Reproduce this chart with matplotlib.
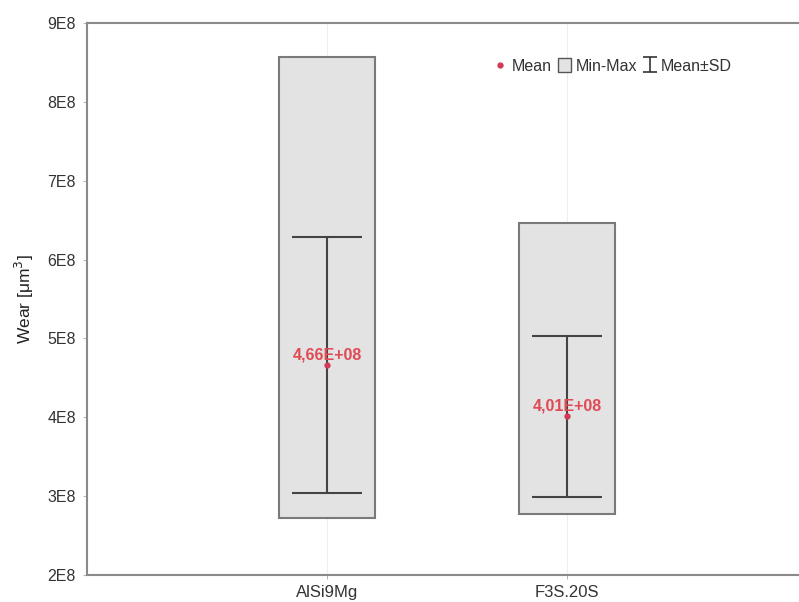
import matplotlib
matplotlib.use("Agg")
import matplotlib.pyplot as plt
from matplotlib.patches import Rectangle
import numpy as np

plt.rcParams['font.family'] = ['Liberation Sans', 'DejaVu Sans']

categories = ["AlSi9Mg", "F3S.20S"]
means = [4.66e8, 4.01e8]
sds = [1.62e8, 1.02e8]
mins = [2.72e8, 2.77e8]
maxs = [8.57e8, 6.46e8]
mean_labels = ["4,66E+08", "4,01E+08"]
yticks = [2e8, 3e8, 4e8, 5e8, 6e8, 7e8, 8e8, 9e8]
ytick_labels = ["2E8", "3E8", "4E8", "5E8", "6E8", "7E8", "8E8", "9E8"]

fig = plt.figure(figsize=(7.99, 6.02), dpi=100)
ax = fig.add_axes([87/799, 27/602, 720/799, 552/602])

x = np.arange(len(categories))
box_w = 0.40
spine_c = '#8a8a8a'
for xi, mn, mx in zip(x, mins, maxs):
    ax.add_patch(Rectangle((xi - box_w/2, mn), box_w, mx - mn,
                           facecolor='#e3e3e3', edgecolor='#7a7a7a', linewidth=1.5, zorder=2))

eb = ax.errorbar(x, means, yerr=sds, fmt='none', ecolor='#444444', elinewidth=1.5,
                 capsize=25, capthick=1.5, zorder=3)
ax.plot(x, means, 'o', color='#d23a55', markersize=3.5, zorder=4, linestyle='none')
for xi, m, lab in zip(x, means, mean_labels):
    ax.text(xi, m + 0.13e8, lab, color='#e04a55', fontsize=11.5, fontweight='bold',
            ha='center', va='center', zorder=5)

ax.set_xlim(-1, 2)
ax.set_ylim(2e8, 9e8)
ax.set_xticks(x)
ax.set_xticklabels(categories, fontsize=12, color='#333333')
ax.set_yticks(yticks)
ax.set_yticklabels(ytick_labels, fontsize=11.5, color='#333333')
ax.set_ylabel("Wear [μm$^3$]", fontsize=12.5, color='#222222', labelpad=8)
ax.tick_params(axis='both', length=3, width=0.6, color='#aaaaaa', direction='out')
ax.tick_params(axis='y', pad=5)
ax.tick_params(axis='x', pad=4)
ax.grid(axis='x', color='#eeeeee', linewidth=0.8, zorder=0)
for s in ['left', 'bottom', 'top']:
    ax.spines[s].set_color(spine_c)
    ax.spines[s].set_linewidth(1.5)
ax.spines['right'].set_visible(False)

h_mean = ax.plot([], [], 'o', color='#d23a55', markersize=3.5, linestyle='none')[0]
h_box = Rectangle((0, 0), 1, 1, facecolor='#e3e3e3', edgecolor='#555555', linewidth=1)
h_sd = ax.errorbar([np.nan], [np.nan], yerr=[1], fmt='none', ecolor='#333333',
                   elinewidth=1.2, capsize=5, capthick=1.2)
leg = ax.legend([h_mean, h_box, h_sd], ["Mean", "Min-Max", "Mean±SD"], ncol=3,
                loc='center', bbox_to_anchor=(526/720, (579-70)/552), frameon=False,
                fontsize=11.5, handlelength=0.8, handleheight=1.0, handletextpad=0.3,
                columnspacing=0.4, borderpad=0)
for t in leg.get_texts():
    t.set_color('#333333')

fig.savefig("out.png", dpi=100)
